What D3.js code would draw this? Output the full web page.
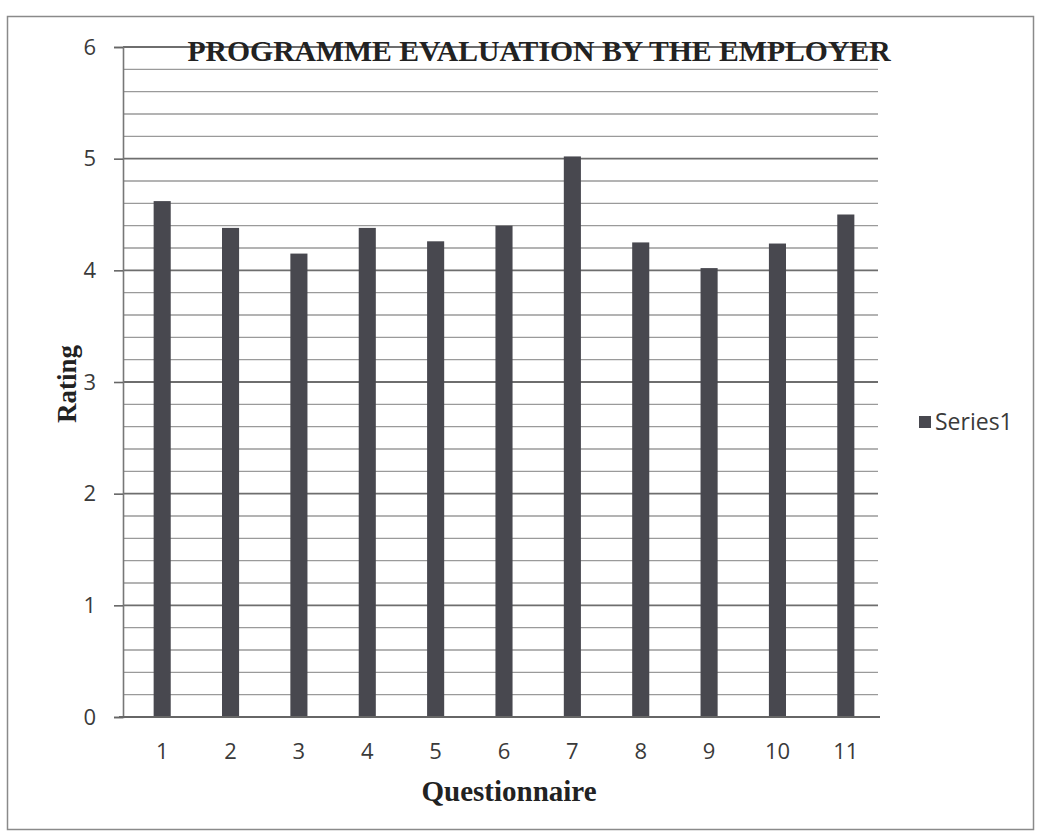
<!DOCTYPE html>
<html>
<head>
<meta charset="utf-8">
<script src="https://cdn.jsdelivr.net/npm/d3@7"></script>
<style>
  html, body { margin: 0; padding: 0; background: #fff; }
  svg { display: block; }
</style>
</head>
<body>
<svg id="chart" width="1039" height="834"></svg>
<script>
// Employer ratings for each questionnaire item
const categories = ["1", "2", "3", "4", "5", "6", "7", "8", "9", "10", "11"];
const ratings = [4.62, 4.38, 4.15, 4.38, 4.26, 4.40, 5.02, 4.25, 4.02, 4.24, 4.50];
const yTicks = [0, 1, 2, 3, 4, 5, 6];
const seriesName = "Series1";
const chartTitle = "PROGRAMME EVALUATION BY THE EMPLOYER";
const xTitle = "Questionnaire";
const yTitle = "Rating";

const sans = "'Open Sans', 'Liberation Sans', sans-serif";
const serif = "'Liberation Serif', 'Times New Roman', serif";

const svg = d3.select("#chart");

// outer frame
svg.append("rect")
  .attr("x", 7.5).attr("y", 16.5)
  .attr("width", 1026).attr("height", 813)
  .attr("fill", "#fff").attr("stroke", "#8a8a8a").attr("stroke-width", 1.5);

const plot = { left: 123, right: 878, top: 47, bottom: 717 };

const x = d3.scaleBand()
  .domain(categories)
  .range([128, 880])
  .paddingInner(0.75)
  .paddingOuter(0.375);

const y = d3.scaleLinear()
  .domain([0, 6])
  .range([plot.bottom, plot.top]);

// minor gridlines every 0.2
const minor = d3.range(0, 30).map(i => i * 0.2).filter(v => Math.abs(v - Math.round(v)) > 1e-6);
svg.append("g")
  .selectAll("line")
  .data(minor)
  .join("line")
  .attr("x1", plot.left).attr("x2", plot.right)
  .attr("y1", d => y(d)).attr("y2", d => y(d))
  .attr("stroke", "#9a9a9a").attr("stroke-width", 1.4);

// major gridlines
svg.append("g")
  .selectAll("line")
  .data(yTicks.filter(d => d > 0))
  .join("line")
  .attr("x1", plot.left).attr("x2", plot.right)
  .attr("y1", d => y(d)).attr("y2", d => y(d))
  .attr("stroke", "#6e6e6e").attr("stroke-width", 1.8);

// bars
svg.append("g")
  .selectAll("rect")
  .data(ratings)
  .join("rect")
  .attr("x", (d, i) => x(categories[i]))
  .attr("width", x.bandwidth())
  .attr("y", d => y(d))
  .attr("height", d => y(0) - y(d))
  .attr("fill", "#48484f");

// y axis
const yAxis = svg.append("g")
  .attr("transform", `translate(${plot.left},0)`)
  .call(d3.axisLeft(y).tickValues(yTicks).tickSize(9).tickPadding(18).tickFormat(d3.format("d")));
yAxis.select(".domain").attr("stroke", "#777").attr("stroke-width", 1.6);
yAxis.selectAll(".tick line").attr("stroke", "#666").attr("stroke-width", 1.6);
yAxis.selectAll("text")
  .style("font-family", sans)
  .style("font-size", "22px").attr("fill", "#3a3a3a");

// x axis
const xAxis = svg.append("g")
  .attr("transform", `translate(0,${plot.bottom})`)
  .call(d3.axisBottom(x).tickSize(0).tickPadding(26));
xAxis.select(".domain").attr("d", `M${plot.left - 4},0H${plot.right + 2}`)
  .attr("stroke", "#666").attr("stroke-width", 2);
xAxis.selectAll("text")
  .style("font-family", sans)
  .style("font-size", "22px").attr("fill", "#3a3a3a");

// titles
svg.append("text")
  .attr("x", 539).attr("y", 61)
  .attr("text-anchor", "middle")
  .style("font-family", serif)
  .style("font-weight", "bold").style("font-size", "29.7px")
  .attr("fill", "#222")
  .text(chartTitle);

svg.append("text")
  .attr("x", 509).attr("y", 801)
  .attr("text-anchor", "middle")
  .style("font-family", serif)
  .style("font-weight", "bold").style("font-size", "29px")
  .attr("fill", "#222")
  .text(xTitle);

svg.append("text")
  .attr("transform", "translate(76,384) rotate(-90)")
  .attr("text-anchor", "middle")
  .style("font-family", serif)
  .style("font-weight", "bold").style("font-size", "27px")
  .attr("fill", "#222")
  .text(yTitle);

// legend
const legend = svg.append("g").attr("transform", "translate(919,422)");
legend.append("rect")
  .attr("x", 0).attr("y", -6).attr("width", 12).attr("height", 12)
  .attr("fill", "#48484f");
legend.append("text")
  .attr("x", 16).attr("y", 0).attr("dy", "0.35em")
  .style("font-family", sans)
  .style("font-size", "23px").attr("fill", "#3a3a3a")
  .text(seriesName);
</script>
</body>
</html>
